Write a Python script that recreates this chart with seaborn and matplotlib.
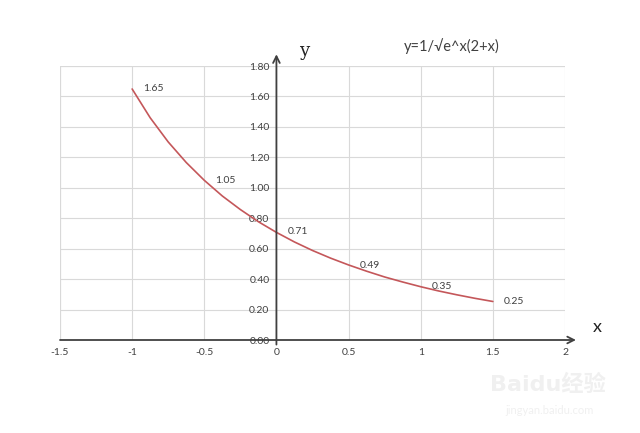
import matplotlib
matplotlib.use("Agg")
import matplotlib.pyplot as plt
import seaborn as sns

# curve points
curve_x = [-1.0, -0.875, -0.75, -0.625, -0.5, -0.375, -0.25, -0.125, 0.0,
           0.125, 0.25, 0.375, 0.5, 0.625, 0.75, 0.875, 1.0, 1.125, 1.25,
           1.375, 1.5]
curve_y = [1.649, 1.460, 1.301, 1.166, 1.049, 0.946, 0.857, 0.777, 0.707,
           0.644, 0.588, 0.538, 0.493, 0.452, 0.414, 0.381, 0.350, 0.322,
           0.297, 0.274, 0.253]

# labelled points
label_x = [-1.0, -0.5, 0.0, 0.5, 1.0, 1.5]
label_y = [1.65, 1.05, 0.71, 0.49, 0.35, 0.25]

x_ticks = [-1.5, -1, -0.5, 0, 0.5, 1, 1.5, 2]
x_tick_labels = ["-1.5", "-1", "-0.5", "0", "0.5", "1", "1.5", "2"]
y_ticks = [0.0, 0.2, 0.4, 0.6, 0.8, 1.0, 1.2, 1.4, 1.6, 1.8]
y_tick_labels = ["0.00", "0.20", "0.40", "0.60", "0.80", "1.00", "1.20", "1.40", "1.60", "1.80"]

title = "y=1/√e^x(2+x)"

LINE_COLOR = "#C4575A"
AXIS_COLOR = "#404040"
TEXT_COLOR = "#404040"
GRID_COLOR = "#D9D9D9"

sns.set_style("white")
plt.rcParams["font.family"] = ["Lato", "DejaVu Sans", "Noto Sans CJK SC"]

fig = plt.figure(figsize=(6.4, 4.33), dpi=100)
ax = fig.add_axes([60 / 640, 93 / 433, 505 / 640, 274 / 433])

sns.lineplot(x=curve_x, y=curve_y, ax=ax, color=LINE_COLOR, linewidth=1.2, zorder=3)

ax.set_xlim(-1.5, 2)
ax.set_ylim(0, 1.8)
ax.set_xticks(x_ticks)
ax.set_xticklabels(x_tick_labels)
ax.set_yticks(y_ticks)
ax.set_yticklabels(y_tick_labels)
ax.grid(True, color=GRID_COLOR, linewidth=0.8)
ax.set_axisbelow(True)

ax.spines["left"].set_position(("data", 0))
ax.spines["bottom"].set_position(("data", 0))
for side in ["left", "bottom", "top", "right"]:
    ax.spines[side].set_visible(False)
ax.tick_params(axis="both", length=0, labelsize=7.5, colors=TEXT_COLOR)
ax.tick_params(axis="y", pad=5)
ax.tick_params(axis="x", pad=6)
ax.set_xlabel("")
ax.set_ylabel("")

# outer box edges of grid
ax.axvline(-1.5, color=GRID_COLOR, linewidth=0.8, zorder=0)
ax.axhline(1.8, color=GRID_COLOR, linewidth=0.8, zorder=0)

# axes with arrows
arrow = dict(arrowstyle="->", lw=1.3, color=AXIS_COLOR, mutation_scale=12,
             shrinkA=0, shrinkB=0)
ax.annotate("", xy=(2.076, 0), xytext=(-1.5, 0), arrowprops=arrow,
            annotation_clip=False, zorder=4)
ax.annotate("", xy=(0, 1.877), xytext=(0, -0.03), arrowprops=arrow,
            annotation_clip=False, zorder=4)

for lx, ly in zip(label_x, label_y):
    ax.annotate(f"{ly:.2f}", xy=(lx, ly), xytext=(8, 0), textcoords="offset points",
                ha="left", va="center", fontsize=7.5, color=TEXT_COLOR, zorder=5)

fig.text(304 / 640, 1 - 51 / 433, "y", family="DejaVu Serif", fontsize=13,
         color="#222222", ha="center", va="center")
fig.text(597 / 640, 1 - 327 / 433, "x", fontsize=13, color="#222222",
         ha="center", va="center")
fig.text(452 / 640, 1 - 46 / 433, title, fontsize=10.5, color=TEXT_COLOR,
         ha="center", va="center")

# faint watermark
fig.text(548 / 640, 1 - 384 / 433, "Baidu经验", fontsize=16, color="#F0F0F0",
         ha="center", va="center", fontweight="bold",
         family=["DejaVu Sans", "Noto Sans CJK SC"])
fig.text(550 / 640, 1 - 410 / 433, "jingyan.baidu.com", fontsize=8,
         color="#F0F0F0", ha="center", va="center")

fig.savefig("out.png", dpi=100)
